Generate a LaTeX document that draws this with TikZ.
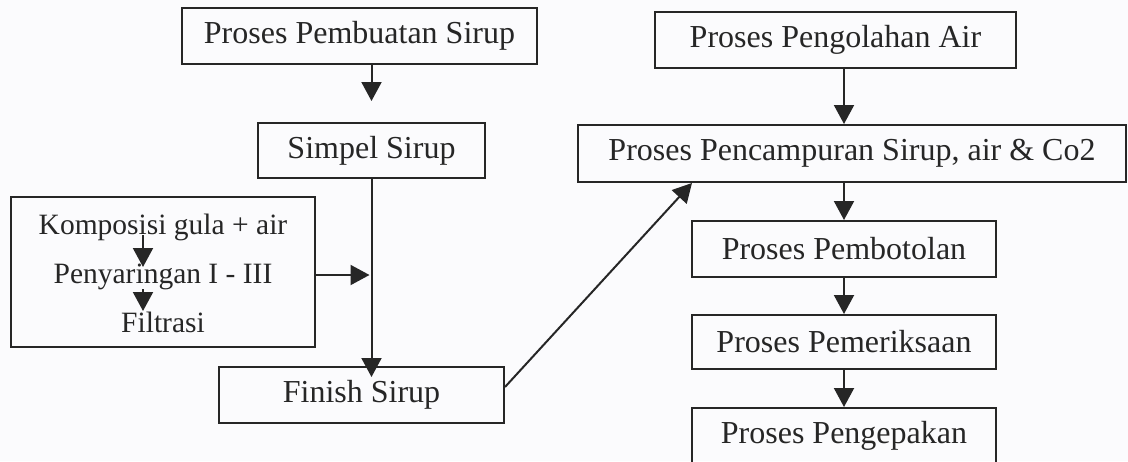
\documentclass[tikz,border=0pt]{standalone}
\usepackage{fontspec}
\setmainfont{Liberation Serif}
\usetikzlibrary{arrows.meta}
\definecolor{ink}{HTML}{262626}
\definecolor{paper}{HTML}{FBFBFD}
\tikzset{
  box/.style={draw=ink, line width=2pt, inner sep=0pt, text=ink, font=\fontsize{32}{38}\selectfont},
  sub/.style={inner sep=0pt, text=ink, font=\fontsize{29.5}{35}\selectfont},
  arr/.style={draw=ink, line width=2pt, -{Triangle[length=19pt,width=20pt]}},
}
\begin{document}
\begin{tikzpicture}[x=1pt,y=-1pt]
\useasboundingbox (0,0) rectangle (1128,461);
\fill[paper] (0,0) rectangle (1128,461);
\clip (0,0) rectangle (1128,461);
% left column
\node[box, minimum width=355pt, minimum height=56pt] (pembuatan) at (359.5,36) {Proses Pembuatan Sirup};
\node[box, minimum width=227pt, minimum height=55pt] (simpel) at (371.5,150.5) {Simpel Sirup};
\node[box, minimum width=304pt, minimum height=150pt] (kompbox) at (163,272) {};
\node[sub] (k1) at (163,227) {Komposisi gula + air};
\node[sub] (k2) at (163,277) {Penyaringan I - III};
\node[sub] (k3) at (163,322) {Filtrasi};
\node[box, minimum width=285pt, minimum height=56pt] (finish) at (361.5,395) {Finish Sirup};
% right column
\node[box, minimum width=361pt, minimum height=56pt] (pengolahan) at (835.5,40) {Proses Pengolahan Air};
\node[box, minimum width=548pt, minimum height=57pt] (pencampuran) at (852,153.5) {Proses Pencampuran Sirup, air \& Co2};
\node[box, minimum width=304pt, minimum height=56pt] (pembotolan) at (844,249) {Proses Pembotolan};
\node[box, minimum width=304pt, minimum height=54pt] (pemeriksaan) at (844,342) {Proses Pemeriksaan};
\node[box, minimum width=304pt, minimum height=56pt] (pengepakan) at (844,436) {Proses Pengepakan};
% coordinates for internal arrows
\coordinate (a1s) at (143,235);
\coordinate (a1e) at (143,267);
\coordinate (a2s) at (143,289);
\coordinate (a2e) at (143,311);
% connectors
\draw[arr] (simpel.north |- pembuatan.south) -- ([yshift=21pt]simpel.north);
\draw[arr] (simpel.south) -- ([yshift=-11pt]simpel.south |- finish.north);
\draw[arr] ([yshift=-3pt]kompbox.east) -- ([yshift=-3pt,xshift=-2pt]kompbox.east -| simpel.south);
\draw[arr] (a1s) -- (a1e);
\draw[arr] (a2s) -- (a2e);
\draw[arr] ([yshift=8pt]finish.east) -- ([xshift=-160pt]pencampuran.south);
\draw[arr] (pengolahan.south -| pembotolan.north) -- (pencampuran.north -| pembotolan.north);
\draw[arr] (pencampuran.south -| pembotolan.north) -- (pembotolan.north);
\draw[arr] (pembotolan.south) -- (pemeriksaan.north);
\draw[arr] (pemeriksaan.south) -- (pengepakan.north);
\end{tikzpicture}
\end{document}
